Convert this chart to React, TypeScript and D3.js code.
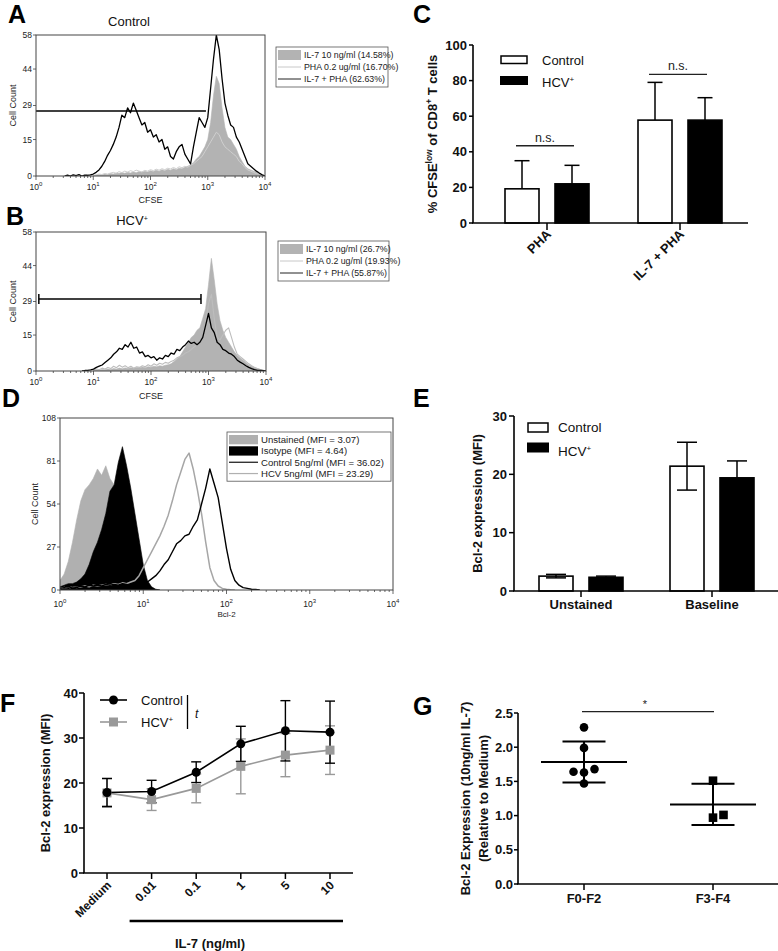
import React from 'react';
import * as d3 from 'd3';

const FONT = '"Liberation Sans", Arial, Helvetica, sans-serif';
const BIN_STEP = 0.05; // histogram channel width, in log10 decades

// ---------------- Panel A : Control, CFSE ----------------
const aIl7Start = 1.0;
const aIl7 = [0,0.3,0.5,0.4,0.8,0.6,1,0.8,1.2,1,1.4,1.1,1.5,1.2,1.6,1.3,1.8,1.5,2,1.6,2.2,1.8,2.4,2,2.6,2.2,2.8,2.4,3,2.6,3.2,3,3.6,4,4.6,5.5,7,8,10,12,15,22,33,41,38,28,20,16,15,13,11,8,6,4,3,2.5,2,1.5,1,0.5,0];
const aPhaStart = 1.0;
const aPha = [0.3,0.5,0.8,0.6,1,0.8,1.2,1.5,1.1,1.8,1.4,2,1.6,2.2,1.8,2.4,2,1.7,2.3,2,2.6,2.2,2.8,2.4,3,2.6,3.2,2.9,3.5,3,3.8,3.4,4,3.6,4.4,5,6,7,8,10,12,14,16,18,17,14,12,11,10,9,8,6,5,3.5,2.5,2,1.5,1,0.8,0.4,0];
const aComboStart = 0.5;
const aCombo = [0,0.4,0,0.5,0.2,0.6,0,0.4,0.3,0.5,0.8,1.5,2.5,4,6,8.5,10.5,13,16,20,25,24,28,26,30,27,24,21,22,18,19,16,17,14,15,11,12,8,7,10,12,13,9,7,5,12,18,24,22,20,24,36,48,58,52,40,30,25,21,20,16,14,11,8,5,4,3,2,1.2,0.5,0];
const aGateRange = [1, 930];
const aGateLevel = 26.7;
const aLegend = ['IL-7 10 ng/ml (14.58%)', 'PHA 0.2 ug/ml (16.70%)', 'IL-7 + PHA (62.63%)'];

// ---------------- Panel B : HCV+, CFSE ----------------
const bIl7Start = 1.0;
const bIl7 = [0.2,0.4,0.3,0.6,0.5,0.8,0.6,1,0.8,1.2,0.9,1.3,1,1.4,1.1,1.5,1.3,1.7,1.4,1.8,1.6,2,1.8,2.2,2,2.4,2.6,3,4,5,6,8,10,12,14,15,17,18,22,26,36,47,38,28,21,17,14,12,10,8,6.5,5.5,4.5,3.5,2.5,2,1.5,1,0.6,0.3,0];
const bPhaStart = 1.0;
const bPha = [0.3,0.8,0.5,1.2,0.8,1.5,1,2,1.4,2.4,1.6,2.2,1.4,2,1.2,1.8,1.5,2.2,1.8,2.6,2,3,2.4,3.2,2.8,3.6,3.2,4,4.5,5.5,6,6.5,7.5,8,9,10,11,12,14,20,28,32,22,14,13,15,17,18,14,10,7,6,5,4,3,2.2,1.5,1,0.6,0.3,0];
const bComboStart = 0.8;
const bCombo = [0,0.2,0.3,0.5,0.8,1.5,2,2.5,3.5,4.5,5.5,7,8,9.5,9,11,10,12,9.5,10,7.5,8,6,6.5,5.5,6,4.5,5.5,5,6.5,6,7.5,7,9,8.5,10,11,12.5,11.5,12,11,12,14,19,24,18,16,12,11,9,8.5,7.5,7,6,4.5,3.7,3,2.2,1.5,1,0.6,0.3,0.2,0.1,0];
const bGateRange = [1.12, 740];
const bGateLevel = 30;
const bLegend = ['IL-7 10 ng/ml (26.7%)', 'PHA 0.2 ug/ml (19.93%)', 'IL-7 + PHA (55.87%)'];

const cfseTicks = [0, 15, 29, 44, 58];

// ---------------- Panel D : Bcl-2 histograms ----------------
const dUnstainedStart = 0.0;
const dUnstained = [6,10,18,30,44,56,63,66,70,76,72,78,70,66,60,52,42,32,20,9,4,1.5,0];
const dIsotypeStart = 0.0;
const dIsotype = [2,3,4,4,5,7,10,16,24,30,38,48,62,66,80,90,78,64,48,32,16,6,2,0.5,0];
const dControlStart = 0.0;
const dControl = [1,1.5,1,2,1.5,2.5,2,3,2.5,3,2.5,3.5,3,3.5,3,4,3.5,3,3.5,3,4,5,7,9,12,16,19,24,29,31,34,35,40,44,54,64,76,67,58,42,26,13,6,3,1.5,1,0.5,0.3,0];
const dHcvStart = 0.0;
const dHcv = [1,1.5,1,2,1.5,2,2.5,2,3,2.5,3,3.5,3,4,3.5,4.5,4,5,6,9,14,19,24,29,34,40,47,56,66,74,82,86,76,63,48,30,14,6,2.5,1,0.5,0.2,0];
const dTicks = [0, 27, 54, 81, 108];
const dLegend = ['Unstained (MFI = 3.07)', 'Isotype (MFI = 4.64)', 'Control 5ng/ml (MFI = 36.02)', 'HCV 5ng/ml (MFI = 23.29)'];

// ---------------- Panel C ----------------
const cCategories = ['PHA', 'IL-7 + PHA'];
const cControl = [19.2, 57.8];
const cControlSd = [15.8, 21.2];
const cHcv = [22.0, 57.8];
const cHcvSd = [10.4, 12.6];
const cSig = [43.4, 83.5];
const cTicks = [0, 20, 40, 60, 80, 100];

// ---------------- Panel E ----------------
const eCategories = ['Unstained', 'Baseline'];
const eControl = [2.55, 21.4];
const eControlSd = [0.3, 4.1];
const eHcv = [2.35, 19.4];
const eHcvSd = [0.2, 2.9];
const eTicks = [0, 10, 20, 30];

// ---------------- Panel F ----------------
const fDoses = ['Medium', '0.01', '0.1', '1', '5', '10'];
const fControl = [17.9, 18.1, 22.4, 28.7, 31.6, 31.3];
const fControlSd = [3.1, 2.5, 2.3, 3.9, 6.7, 6.9];
const fHcv = [17.8, 16.3, 18.8, 23.7, 26.2, 27.3];
const fHcvSd = [3.2, 2.4, 3.2, 6.1, 4.8, 5.4];
const fTicks = [0, 10, 20, 30, 40];

// ---------------- Panel G ----------------
const gGroups = ['F0-F2', 'F3-F4'];
const gF02 = [2.29, 1.99, 1.64, 1.63, 1.68, 1.47];
const gF02Jitter = [0, 0, -1, 0, 1, 0];
const gF34 = [1.51, 0.97, 1.01];
const gF34Jitter = [0, 0, 1];
const gSig = 2.52;
const gTicks = [0, 0.5, 1.0, 1.5, 2.0, 2.5];

const seriesNames = ['Control', 'HCV+'];

type P = [number, number];
const toPts = (start: number, values: number[]): P[] => values.map((v, i) => [start + i * BIN_STEP, v]);

function Sup({ base, sup, dy = -5, fs = 8 }: { base: string; sup: string; dy?: number; fs?: number }) {
  return (
    <>
      {base}
      <tspan dy={dy} fontSize={fs}>{sup}</tspan>
    </>
  );
}

function FlowPlot(props: {
  id: string; left: number; right: number; top: number; bottom: number; yMax: number; yTicks: number[];
  fills: { start: number; values: number[]; color: string }[];
  lines: { start: number; values: number[]; color: string; width: number }[];
  gate?: { range: number[]; level: number; caps: boolean };
  xLabel: string; xLabelY: number; xLabelSize: number; tickLabelY: number; yLabelX: number;
}) {
  const { id, left, right, top, bottom, yMax, yTicks, fills, lines, gate } = props;
  const x = d3.scaleLog().domain([1, 1e4]).range([left, right]);
  const y = d3.scaleLinear().domain([0, yMax]).range([bottom, top]);
  const area = d3.area<P>().x(d => x(Math.pow(10, d[0]))).y0(bottom).y1(d => y(d[1]));
  const line = d3.line<P>().x(d => x(Math.pow(10, d[0]))).y(d => y(d[1]));
  const allTicks = x.ticks();
  const majors = [1, 10, 100, 1000, 10000];
  return (
    <g>
      <defs>
        <clipPath id={id}>
          <rect x={left} y={top} width={right - left} height={bottom - top} />
        </clipPath>
      </defs>
      <g clipPath={`url(#${id})`}>
        {fills.map((f, i) => (
          <path key={'f' + i} d={area(toPts(f.start, f.values)) || ''} fill={f.color} stroke={f.color} strokeWidth={0.6} />
        ))}
        {lines.map((l, i) => (
          <path key={'l' + i} d={line(toPts(l.start, l.values)) || ''} fill="none" stroke={l.color} strokeWidth={l.width} strokeLinejoin="round" />
        ))}
      </g>
      {gate && (
        <g stroke="#000" strokeWidth={1.5}>
          <line x1={x(gate.range[0])} x2={x(gate.range[1])} y1={y(gate.level)} y2={y(gate.level)} />
          {gate.caps && (
            <>
              <line x1={x(gate.range[0])} x2={x(gate.range[0])} y1={y(gate.level) - 5} y2={y(gate.level) + 5} />
              <line x1={x(gate.range[1])} x2={x(gate.range[1])} y1={y(gate.level) - 5} y2={y(gate.level) + 5} />
            </>
          )}
        </g>
      )}
      <rect x={left} y={top} width={right - left} height={bottom - top} fill="none" stroke="#444" strokeWidth={1} />
      {allTicks.map((t, i) => {
        const major = majors.includes(t);
        return <line key={'xt' + i} x1={x(t)} x2={x(t)} y1={bottom} y2={bottom + (major ? 4 : 2)} stroke="#444" strokeWidth={0.8} />;
      })}
      {majors.map((t, i) => (
        <text key={'xl' + i} x={x(t)} y={props.tickLabelY} fontSize={8.5} textAnchor="middle" fill="#222">
          <Sup base="10" sup={String(i)} dy={-4} fs={6} />
        </text>
      ))}
      {yTicks.map((t, i) => (
        <g key={'yt' + i}>
          <line x1={left - 3} x2={left} y1={y(t)} y2={y(t)} stroke="#444" strokeWidth={0.8} />
          <text x={left - 4} y={y(t)} dy="0.35em" fontSize={8.5} textAnchor="end" fill="#222">{t}</text>
        </g>
      ))}
      <text x={(left + right) / 2} y={props.xLabelY} fontSize={props.xLabelSize} textAnchor="middle" fill="#222">{props.xLabel}</text>
      <text transform={`translate(${props.yLabelX},${(top + bottom) / 2}) rotate(-90)`} fontSize={9} textAnchor="middle" fill="#222">Cell Count</text>
    </g>
  );
}

function FlowLegend(props: { x: number; y: number; w: number; rowH: number; items: { kind: string; color: string; label: string; width?: number }[]; fs: number; swW: number }) {
  const { x, y, w, rowH, items, fs, swW } = props;
  const h = rowH * items.length + 4;
  return (
    <g>
      <rect x={x} y={y} width={w} height={h} fill="#fff" stroke="#555" strokeWidth={0.8} />
      {items.map((it, i) => {
        const cy = y + 2 + rowH * (i + 0.5);
        return (
          <g key={i}>
            {it.kind === 'fill' ? (
              <rect x={x + 2} y={cy - rowH / 2 + 1} width={swW} height={rowH - 2} fill={it.color} />
            ) : (
              <line x1={x + 2} x2={x + 2 + swW} y1={cy} y2={cy} stroke={it.color} strokeWidth={it.width || 1} />
            )}
            <text x={x + swW + 5} y={cy} dy="0.35em" fontSize={fs} fill="#222">{it.label}</text>
          </g>
        );
      })}
    </g>
  );
}

export default function App() {
  // ---- C scales
  const cY = d3.scaleLinear().domain([0, 100]).range([223, 45]);
  const cX = d3.scalePoint<string>().domain(cCategories).range([547, 680]);
  const sub = d3.scaleBand<string>().domain(seriesNames).range([-42, 42]).paddingInner(0.32);
  const bw = sub.bandwidth();
  // ---- E scales
  const eY = d3.scaleLinear().domain([0, 30]).range([591, 416]);
  const eX = d3.scalePoint<string>().domain(eCategories).range([581, 712]);
  // ---- F scales
  const fY = d3.scaleLinear().domain([0, 40]).range([873, 693]);
  const fX = d3.scalePoint<string>().domain(fDoses).range([107, 330]);
  const fLineC = d3.line<number>().x((_, i) => fX(fDoses[i]) as number).y(d => fY(d));
  // ---- G scales
  const gY = d3.scaleLinear().domain([0, 2.5]).range([884, 713]);
  const gX = d3.scalePoint<string>().domain(gGroups).range([584, 713]);
  const jitterPx = 10.5;

  const boldAxis = { fontSize: 13, fontWeight: 700, fill: '#111' } as const;

  const cSeries = [
    { vals: cControl, sds: cControlSd, fill: '#fff' },
    { vals: cHcv, sds: cHcvSd, fill: '#000' },
  ];
  const eSeries = [
    { vals: eControl, sds: eControlSd, fill: '#fff' },
    { vals: eHcv, sds: eHcvSd, fill: '#000' },
  ];

  const gSets = [
    { name: gGroups[0], vals: gF02, jit: gF02Jitter, shape: 'circle' },
    { name: gGroups[1], vals: gF34, jit: gF34Jitter, shape: 'square' },
  ];

  return (
    <svg width={778} height={951} style={{ position: 'absolute', left: 0, top: 0, background: '#fff' }} fontFamily={FONT}>
      <rect x={0} y={0} width={778} height={951} fill="#fff" />
      {/* Panel letters */}
      {[['A', 8, 23], ['C', 413, 23], ['B', 6, 225], ['D', 2, 407], ['E', 413, 407], ['F', 0, 712], ['G', 413, 715]].map(([t, x, y]) => (
        <text key={t as string} x={x as number} y={y as number} fontSize={25} fontWeight={700} fill="#000">{t}</text>
      ))}

      {/* ===== Panel A ===== */}
      <text x={129} y={26} fontSize={13} textAnchor="middle" fill="#111">Control</text>
      <FlowPlot id="clipA" left={36} right={265} top={35} bottom={176} yMax={58} yTicks={cfseTicks}
        fills={[{ start: aIl7Start, values: aIl7, color: '#b3b3b3' }]}
        lines={[{ start: aPhaStart, values: aPha, color: '#cfcfcf', width: 1 }, { start: aComboStart, values: aCombo, color: '#000', width: 1.3 }]}
        gate={{ range: aGateRange, level: aGateLevel, caps: false }}
        xLabel="CFSE" xLabelY={203} xLabelSize={9} tickLabelY={190} yLabelX={16} />
      <FlowLegend x={276} y={47} w={112} rowH={12} fs={8.8} swW={23}
        items={[{ kind: 'fill', color: '#b3b3b3', label: aLegend[0] }, { kind: 'line', color: '#c8c8c8', label: aLegend[1] }, { kind: 'line', color: '#222', label: aLegend[2] }]} />

      {/* ===== Panel B ===== */}
      <text x={132} y={225} fontSize={13} textAnchor="middle" fill="#111"><Sup base="HCV" sup="+" dy={-4} fs={7} /></text>
      <FlowPlot id="clipB" left={36} right={266} top={232} bottom={371} yMax={58} yTicks={cfseTicks}
        fills={[{ start: bIl7Start, values: bIl7, color: '#b3b3b3' }]}
        lines={[{ start: bPhaStart, values: bPha, color: '#bdbdbd', width: 1.1 }, { start: bComboStart, values: bCombo, color: '#000', width: 1.3 }]}
        gate={{ range: bGateRange, level: bGateLevel, caps: true }}
        xLabel="CFSE" xLabelY={399} xLabelSize={9} tickLabelY={385} yLabelX={16} />
      <FlowLegend x={278} y={241} w={111} rowH={12} fs={8.8} swW={23}
        items={[{ kind: 'fill', color: '#b3b3b3', label: bLegend[0] }, { kind: 'line', color: '#c8c8c8', label: bLegend[1] }, { kind: 'line', color: '#222', label: bLegend[2] }]} />

      {/* ===== Panel D ===== */}
      <FlowPlot id="clipD" left={60} right={393} top={418} bottom={590} yMax={108} yTicks={dTicks}
        fills={[{ start: dUnstainedStart, values: dUnstained, color: '#b0b0b0' }, { start: dIsotypeStart, values: dIsotype, color: '#000' }]}
        lines={[{ start: dHcvStart, values: dHcv, color: '#a6a6a6', width: 1.5 }, { start: dControlStart, values: dControl, color: '#000', width: 1.4 }]}
        xLabel="Bcl-2" xLabelY={617} xLabelSize={8} tickLabelY={607} yLabelX={38} />
      <FlowLegend x={227} y={432} w={164} rowH={11.3} fs={9.6} swW={29}
        items={[{ kind: 'fill', color: '#b0b0b0', label: dLegend[0] }, { kind: 'fill', color: '#000', label: dLegend[1] }, { kind: 'line', color: '#111', label: dLegend[2], width: 1.2 }, { kind: 'line', color: '#b0b0b0', label: dLegend[3], width: 1.2 }]} />

      {/* ===== Panel C ===== */}
      <g>
        {cTicks.map(t => (
          <g key={t}>
            <line x1={469} x2={473} y1={cY(t)} y2={cY(t)} stroke="#000" strokeWidth={1.5} />
            <text x={467} y={cY(t)} dy="0.36em" textAnchor="end" {...boldAxis}>{t}</text>
          </g>
        ))}
        {cCategories.map((cat, ci) => (
          <g key={cat}>
            {cSeries.map((s, si) => {
              const x0 = (cX(cat) as number) + (sub(seriesNames[si]) as number);
              const xc = x0 + bw / 2;
              const top = cY(s.vals[ci]);
              const errTop = cY(s.vals[ci] + s.sds[ci]);
              return (
                <g key={si}>
                  <line x1={xc} x2={xc} y1={top} y2={errTop} stroke="#000" strokeWidth={1.5} />
                  <line x1={xc - 7.5} x2={xc + 7.5} y1={errTop} y2={errTop} stroke="#000" strokeWidth={1.5} />
                  <rect x={x0} y={top} width={bw} height={cY(0) - top} fill={s.fill} stroke="#000" strokeWidth={1.6} />
                </g>
              );
            })}
            <line x1={(cX(cat) as number) - 31} x2={(cX(cat) as number) + 27} y1={cY(cSig[ci])} y2={cY(cSig[ci])} stroke="#222" strokeWidth={1.3} />
            <text x={(cX(cat) as number) - 2} y={cY(cSig[ci]) - 4} textAnchor="middle" fontSize={12.5} fill="#222">n.s.</text>
            <line x1={cX(cat) as number} x2={cX(cat) as number} y1={223} y2={230} stroke="#000" strokeWidth={1.5} />
            <text transform={`translate(${(cX(cat) as number) + 5},${235}) rotate(-45)`} textAnchor="end" {...boldAxis}>{cat}</text>
          </g>
        ))}
        <line x1={473} x2={473} y1={cY(100)} y2={cY(0)} stroke="#000" strokeWidth={1.6} />
        <line x1={472} x2={748} y1={cY(0)} y2={cY(0)} stroke="#000" strokeWidth={1.6} />
        <text transform={`translate(437,${(cY(0) + cY(100)) / 2}) rotate(-90)`} textAnchor="middle" {...boldAxis}>
          % CFSE<tspan dy={-5} fontSize={8.5}>low</tspan><tspan dy={5}> of CD8</tspan><tspan dy={-5} fontSize={8.5}>+</tspan><tspan dy={5}> T cells</tspan>
        </text>
        <rect x={501} y={56} width={26} height={7.5} fill="#fff" stroke="#000" strokeWidth={1.5} />
        <text x={542} y={65} fontSize={13} fill="#111">Control</text>
        <rect x={500} y={76} width={28} height={9} fill="#000" />
        <text x={542} y={87} fontSize={13} fill="#111"><Sup base="HCV" sup="+" dy={-5} fs={8} /></text>
      </g>

      {/* ===== Panel E ===== */}
      <g>
        {eTicks.map(t => (
          <g key={t}>
            <line x1={509} x2={514} y1={eY(t)} y2={eY(t)} stroke="#000" strokeWidth={1.5} />
            <text x={507} y={eY(t)} dy="0.36em" textAnchor="end" {...boldAxis}>{t}</text>
          </g>
        ))}
        {eCategories.map((cat, ci) => (
          <g key={cat}>
            {eSeries.map((s, si) => {
              const x0 = (eX(cat) as number) + (sub(seriesNames[si]) as number);
              const xc = x0 + bw / 2;
              const top = eY(s.vals[ci]);
              const up = eY(s.vals[ci] + s.sds[ci]);
              const lo = eY(s.vals[ci] - s.sds[ci]);
              return (
                <g key={si}>
                  <rect x={x0} y={top} width={bw} height={eY(0) - top} fill={s.fill} stroke="#000" strokeWidth={1.6} />
                  <line x1={xc} x2={xc} y1={lo} y2={up} stroke="#000" strokeWidth={1.5} />
                  <line x1={xc - 10} x2={xc + 10} y1={up} y2={up} stroke="#000" strokeWidth={1.5} />
                  <line x1={xc - 10} x2={xc + 10} y1={lo} y2={lo} stroke="#000" strokeWidth={1.5} />
                </g>
              );
            })}
            <line x1={eX(cat) as number} x2={eX(cat) as number} y1={591} y2={597} stroke="#000" strokeWidth={1.5} />
            <text x={eX(cat) as number} y={609} textAnchor="middle" {...boldAxis}>{cat}</text>
          </g>
        ))}
        <line x1={514} x2={514} y1={eY(30)} y2={eY(0)} stroke="#000" strokeWidth={1.6} />
        <line x1={513} x2={778} y1={eY(0)} y2={eY(0)} stroke="#000" strokeWidth={1.6} />
        <text transform={`translate(482,${(eY(0) + eY(30)) / 2}) rotate(-90)`} textAnchor="middle" {...boldAxis}>Bcl-2 expression (MFI)</text>
        <rect x={528} y={423} width={20} height={9} fill="#fff" stroke="#000" strokeWidth={1.5} />
        <text x={558} y={432} fontSize={13.5} fill="#111">Control</text>
        <rect x={527} y={442.5} width={22} height={10} fill="#000" />
        <text x={558} y={456} fontSize={13.5} fill="#111"><Sup base="HCV" sup="+" dy={-5} fs={8} /></text>
      </g>

      {/* ===== Panel F ===== */}
      <g>
        {fTicks.map(t => (
          <g key={t}>
            <line x1={79} x2={84} y1={fY(t)} y2={fY(t)} stroke="#000" strokeWidth={1.5} />
            <text x={78} y={fY(t)} dy="0.36em" textAnchor="end" {...boldAxis}>{t}</text>
          </g>
        ))}
        {fDoses.map(dz => (
          <g key={dz}>
            <line x1={fX(dz) as number} x2={fX(dz) as number} y1={873} y2={879} stroke="#000" strokeWidth={1.5} />
            <text transform={`translate(${(fX(dz) as number) + 5},${886}) rotate(-45)`} textAnchor="end" fontSize={12} fontWeight={700} fill="#111">{dz}</text>
          </g>
        ))}
        <line x1={84} x2={84} y1={fY(40)} y2={fY(0)} stroke="#000" strokeWidth={1.6} />
        <line x1={83} x2={353} y1={fY(0)} y2={fY(0)} stroke="#000" strokeWidth={1.6} />
        {fHcv.map((v, i) => {
          const xc = fX(fDoses[i]) as number;
          return (
            <g key={'he' + i} stroke="#999" strokeWidth={1.4}>
              <line x1={xc} x2={xc} y1={fY(v - fHcvSd[i])} y2={fY(v + fHcvSd[i])} />
              <line x1={xc - 5} x2={xc + 5} y1={fY(v - fHcvSd[i])} y2={fY(v - fHcvSd[i])} />
              <line x1={xc - 5} x2={xc + 5} y1={fY(v + fHcvSd[i])} y2={fY(v + fHcvSd[i])} />
            </g>
          );
        })}
        {fControl.map((v, i) => {
          const xc = fX(fDoses[i]) as number;
          return (
            <g key={'ce' + i} stroke="#000" strokeWidth={1.4}>
              <line x1={xc} x2={xc} y1={fY(v - fControlSd[i])} y2={fY(v + fControlSd[i])} />
              <line x1={xc - 5} x2={xc + 5} y1={fY(v - fControlSd[i])} y2={fY(v - fControlSd[i])} />
              <line x1={xc - 5} x2={xc + 5} y1={fY(v + fControlSd[i])} y2={fY(v + fControlSd[i])} />
            </g>
          );
        })}
        <path d={fLineC(fHcv) || ''} fill="none" stroke="#999" strokeWidth={1.6} />
        <path d={fLineC(fControl) || ''} fill="none" stroke="#000" strokeWidth={1.6} />
        {fHcv.map((v, i) => (
          <rect key={'hs' + i} x={(fX(fDoses[i]) as number) - 4.5} y={fY(v) - 4.5} width={9} height={9} fill="#999" />
        ))}
        {fControl.map((v, i) => (
          <circle key={'cc' + i} cx={fX(fDoses[i]) as number} cy={fY(v)} r={4.5} fill="#000" />
        ))}
        <line x1={(fX('0.01') as number) - 22} x2={(fX('10') as number) + 13} y1={921} y2={921} stroke="#000" strokeWidth={2.5} />
        <text x={210} y={948} textAnchor="middle" {...boldAxis}>IL-7 (ng/ml)</text>
        <text transform={`translate(50,${(fY(0) + fY(40)) / 2}) rotate(-90)`} textAnchor="middle" {...boldAxis}>Bcl-2 expression (MFI)</text>
        <line x1={100} x2={127} y1={700} y2={700} stroke="#000" strokeWidth={1.6} />
        <circle cx={113.5} cy={700} r={4.5} fill="#000" />
        <text x={141} y={705} fontSize={13} fill="#111">Control</text>
        <line x1={100} x2={127} y1={722} y2={722} stroke="#999" strokeWidth={1.6} />
        <rect x={109} y={717.5} width={9} height={9} fill="#999" />
        <text x={141} y={727} fontSize={13} fill="#111"><Sup base="HCV" sup="+" dy={-5} fs={8} /></text>
        <line x1={187.5} x2={187.5} y1={695} y2={729} stroke="#000" strokeWidth={1.3} />
        <text x={195} y={718} fontSize={12} fontStyle="italic" fill="#111">t</text>
      </g>

      {/* ===== Panel G ===== */}
      <g>
        {gTicks.map(t => (
          <g key={t}>
            <line x1={514} x2={518} y1={gY(t)} y2={gY(t)} stroke="#000" strokeWidth={1.5} />
            <text x={513} y={gY(t)} dy="0.36em" textAnchor="end" {...boldAxis}>{t.toFixed(1)}</text>
          </g>
        ))}
        {gGroups.map(gname => (
          <g key={gname}>
            <line x1={gX(gname) as number} x2={gX(gname) as number} y1={884} y2={890} stroke="#000" strokeWidth={1.5} />
            <text x={gX(gname) as number} y={903} textAnchor="middle" {...boldAxis}>{gname}</text>
          </g>
        ))}
        <line x1={518} x2={518} y1={gY(2.5)} y2={gY(0)} stroke="#000" strokeWidth={1.6} />
        <line x1={517} x2={778} y1={gY(0)} y2={gY(0)} stroke="#000" strokeWidth={1.6} />
        {gSets.map(s => {
          const xc = gX(s.name) as number;
          const m = d3.mean(s.vals) as number;
          const sd = d3.deviation(s.vals) as number;
          return (
            <g key={s.name}>
              {s.vals.map((v, i) =>
                s.shape === 'circle' ? (
                  <circle key={i} cx={xc + s.jit[i] * jitterPx} cy={gY(v)} r={4.3} fill="#000" />
                ) : (
                  <rect key={i} x={xc + s.jit[i] * jitterPx - 4.3} y={gY(v) - 4.3} width={8.6} height={8.6} fill="#000" />
                )
              )}
              <g stroke="#000" strokeWidth={2}>
                <line x1={xc - 43} x2={xc + 43} y1={gY(m)} y2={gY(m)} />
                <line x1={xc - 21.5} x2={xc + 21.5} y1={gY(m + sd)} y2={gY(m + sd)} />
                <line x1={xc - 21.5} x2={xc + 21.5} y1={gY(m - sd)} y2={gY(m - sd)} />
                <line x1={xc} x2={xc} y1={gY(m + sd)} y2={gY(m - sd)} />
              </g>
            </g>
          );
        })}
        <line x1={(gX('F0-F2') as number) - 2} x2={(gX('F3-F4') as number) + 1} y1={gY(gSig)} y2={gY(gSig)} stroke="#222" strokeWidth={1.3} />
        <text x={645} y={gY(gSig) - 4} textAnchor="middle" fontSize={11} fill="#222">*</text>
        <text transform={`translate(470,${(gY(0) + gY(2.5)) / 2}) rotate(-90)`} textAnchor="middle" {...boldAxis}>Bcl-2 Expression (10ng/ml IL-7)</text>
        <text transform={`translate(488,${(gY(0) + gY(2.5)) / 2}) rotate(-90)`} textAnchor="middle" {...boldAxis}>(Relative to Medium)</text>
      </g>
    </svg>
  );
}
